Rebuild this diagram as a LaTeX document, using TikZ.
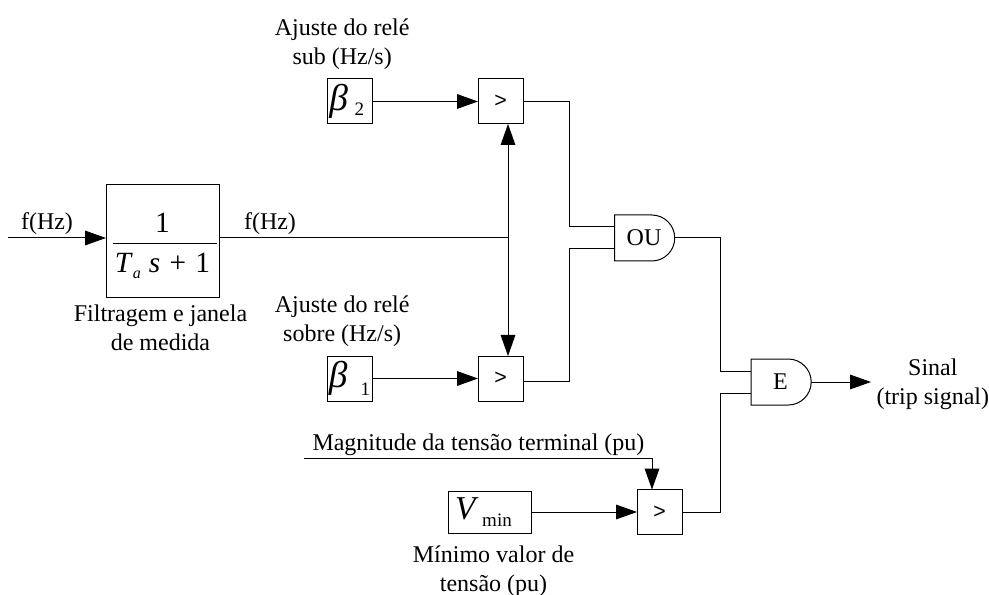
\documentclass[tikz,border=0pt]{standalone}
\usepackage{fontspec}
\setmainfont{Liberation Serif}
\setsansfont{Liberation Sans}
\usetikzlibrary{arrows.meta, positioning, shapes.misc}
\newcommand{\bigsym}{\fontsize{28}{28}\selectfont\itshape}
\newcommand{\capsym}{\fontsize{25}{25}\selectfont\itshape}
\newcommand{\subsym}{\fontsize{14.25}{14.25}\selectfont\upshape}

\begin{document}
\begin{tikzpicture}[
        x=0.75pt, y=-0.75pt,
        line width=0.75pt,
        node distance=79.5pt,
        every node/.style={font=\fontsize{18}{21.75}\selectfont},
        lbl/.style={align=center, inner sep=0pt},
        filtbox/.style={rectangle, draw, minimum size=84.75pt, inner sep=0pt, outer sep=0pt, align=center,
                    font=\fontsize{22}{30}\selectfont},
        setbox/.style={rectangle, draw, minimum height=33.75pt, minimum width=33.75pt, inner sep=0pt, outer sep=0pt},
        cmpbox/.style={setbox, font=\fontsize{16}{16}\selectfont\sffamily},
        gate/.style={rounded rectangle, rounded rectangle west arc=none, draw,
                    minimum width=45pt, minimum height=34.5pt, inner sep=0pt, outer sep=0pt},
        arr/.style={-{Triangle[length=15.75pt, width=11pt]}}
      ]
        \useasboundingbox (0,0) rectangle (989,595);
        % filter and measuring window
        \node[filtbox] (filt) at (162.5,241.5) {\rule{0pt}{21pt}\makebox[0pt]{\hspace{14pt}\rule[-9pt]{78pt}{0.75pt}}1\\\textit{T}\raisebox{-5pt}{\fontsize{12}{12}\selectfont\textit{a}}\hspace{6pt}\textit{s}\hspace{7pt}+\hspace{7pt}1};
        \coordinate (fin) at (8,238);
        \coordinate (junc) at (508,238);
        \node[lbl, above=2pt of fin, xshift=29.25pt] (fhza) {f(Hz)};
        \node[lbl, above=2pt of junc, xshift=-178.5pt] (fhzb) {f(Hz)};
        \node[lbl, below=5pt of filt, xshift=-1.5pt] (filtlbl) {Filtragem e janela\\de medida};
        % setpoints and comparators
        \node[setbox] (betab) at (349.5,101.5) {\bigsym β\raisebox{-4pt}{\subsym\hspace{5pt}2}\kern4pt};
        \node[cmpbox, right=of betab] (cmpa) {>};
        \node[lbl, above=6.5pt of betab, xshift=-5.5pt] (betablbl) {Ajuste do relé\\sub (Hz/s)};
        \node[setbox] (betaa) at (349.5,378.5) {\bigsym β\raisebox{-6pt}{\subsym\hspace{10pt}1}};
        \node[cmpbox, right=of betaa] (cmpb) {>};
        \node[lbl, above=6.5pt of betaa, xshift=-5.5pt] (betaalbl) {Ajuste do relé\\sobre (Hz/s)};
        \node[setbox, minimum width=62.25pt, minimum height=31.5pt] (vmin) at (489.5,512) {\capsym V\raisebox{-5.25pt}{\subsym\hspace{5pt}min}\kern9pt};
        \node[cmpbox, right=of vmin] (cmpc) {>};
        \node[lbl, below=9pt of vmin, xshift=3pt] (vminlbl) {Mínimo valor de\\tensão (pu)};
        \coordinate (magin) at (304,458);
        \coordinate (magcor) at (652,458);
        \node[lbl, above=1.5pt of magin, anchor=south west, xshift=6pt] (maglbl) {Magnitude da tensão terminal (pu)};
        % gates
        \node[gate] (ougate) at (644,238) {OU};
        \node[gate] (egate) at (780.5,382) {E};
        \coordinate (oubus) at (569,238);
        \coordinate (ebus) at (720,382);
        \coordinate (sig) at (871,382);
        \node[lbl, right=3.75pt of sig, yshift=-2pt] (siglbl) {Sinal\\(trip signal)};
        % connectors
        \draw[arr] (fin) -- (fin -| filt.west);
        \draw (filt.east |- junc) -- (junc);
        \draw[arr] (junc) -- (junc |- cmpa.south);
        \draw[arr] (junc) -- (junc |- cmpb.north);
        \draw[arr] (betab) -- (cmpa);
        \draw[arr] (betaa) -- (cmpb);
        \draw[arr] (vmin.east |- cmpc) -- (cmpc);
        \draw[arr] (magin) -- (magcor) -- (magcor |- cmpc.north);
        \draw (cmpa.east) -| ([yshift=8.25pt]oubus) -- ([yshift=8.25pt]ougate.west);
        \draw ([yshift=-2.6pt]cmpb.east) -| ([yshift=-8.25pt]oubus) -- ([yshift=-8.25pt]ougate.west);
        \draw (ougate.east) -| ([yshift=8.25pt]ebus) -- ([yshift=8.25pt]egate.west);
        \draw (cmpc.east) -| ([yshift=-8.25pt]ebus) -- ([yshift=-8.25pt]egate.west);
        \draw[arr] (egate.east) -- (sig);
      \end{tikzpicture}
\end{document}
